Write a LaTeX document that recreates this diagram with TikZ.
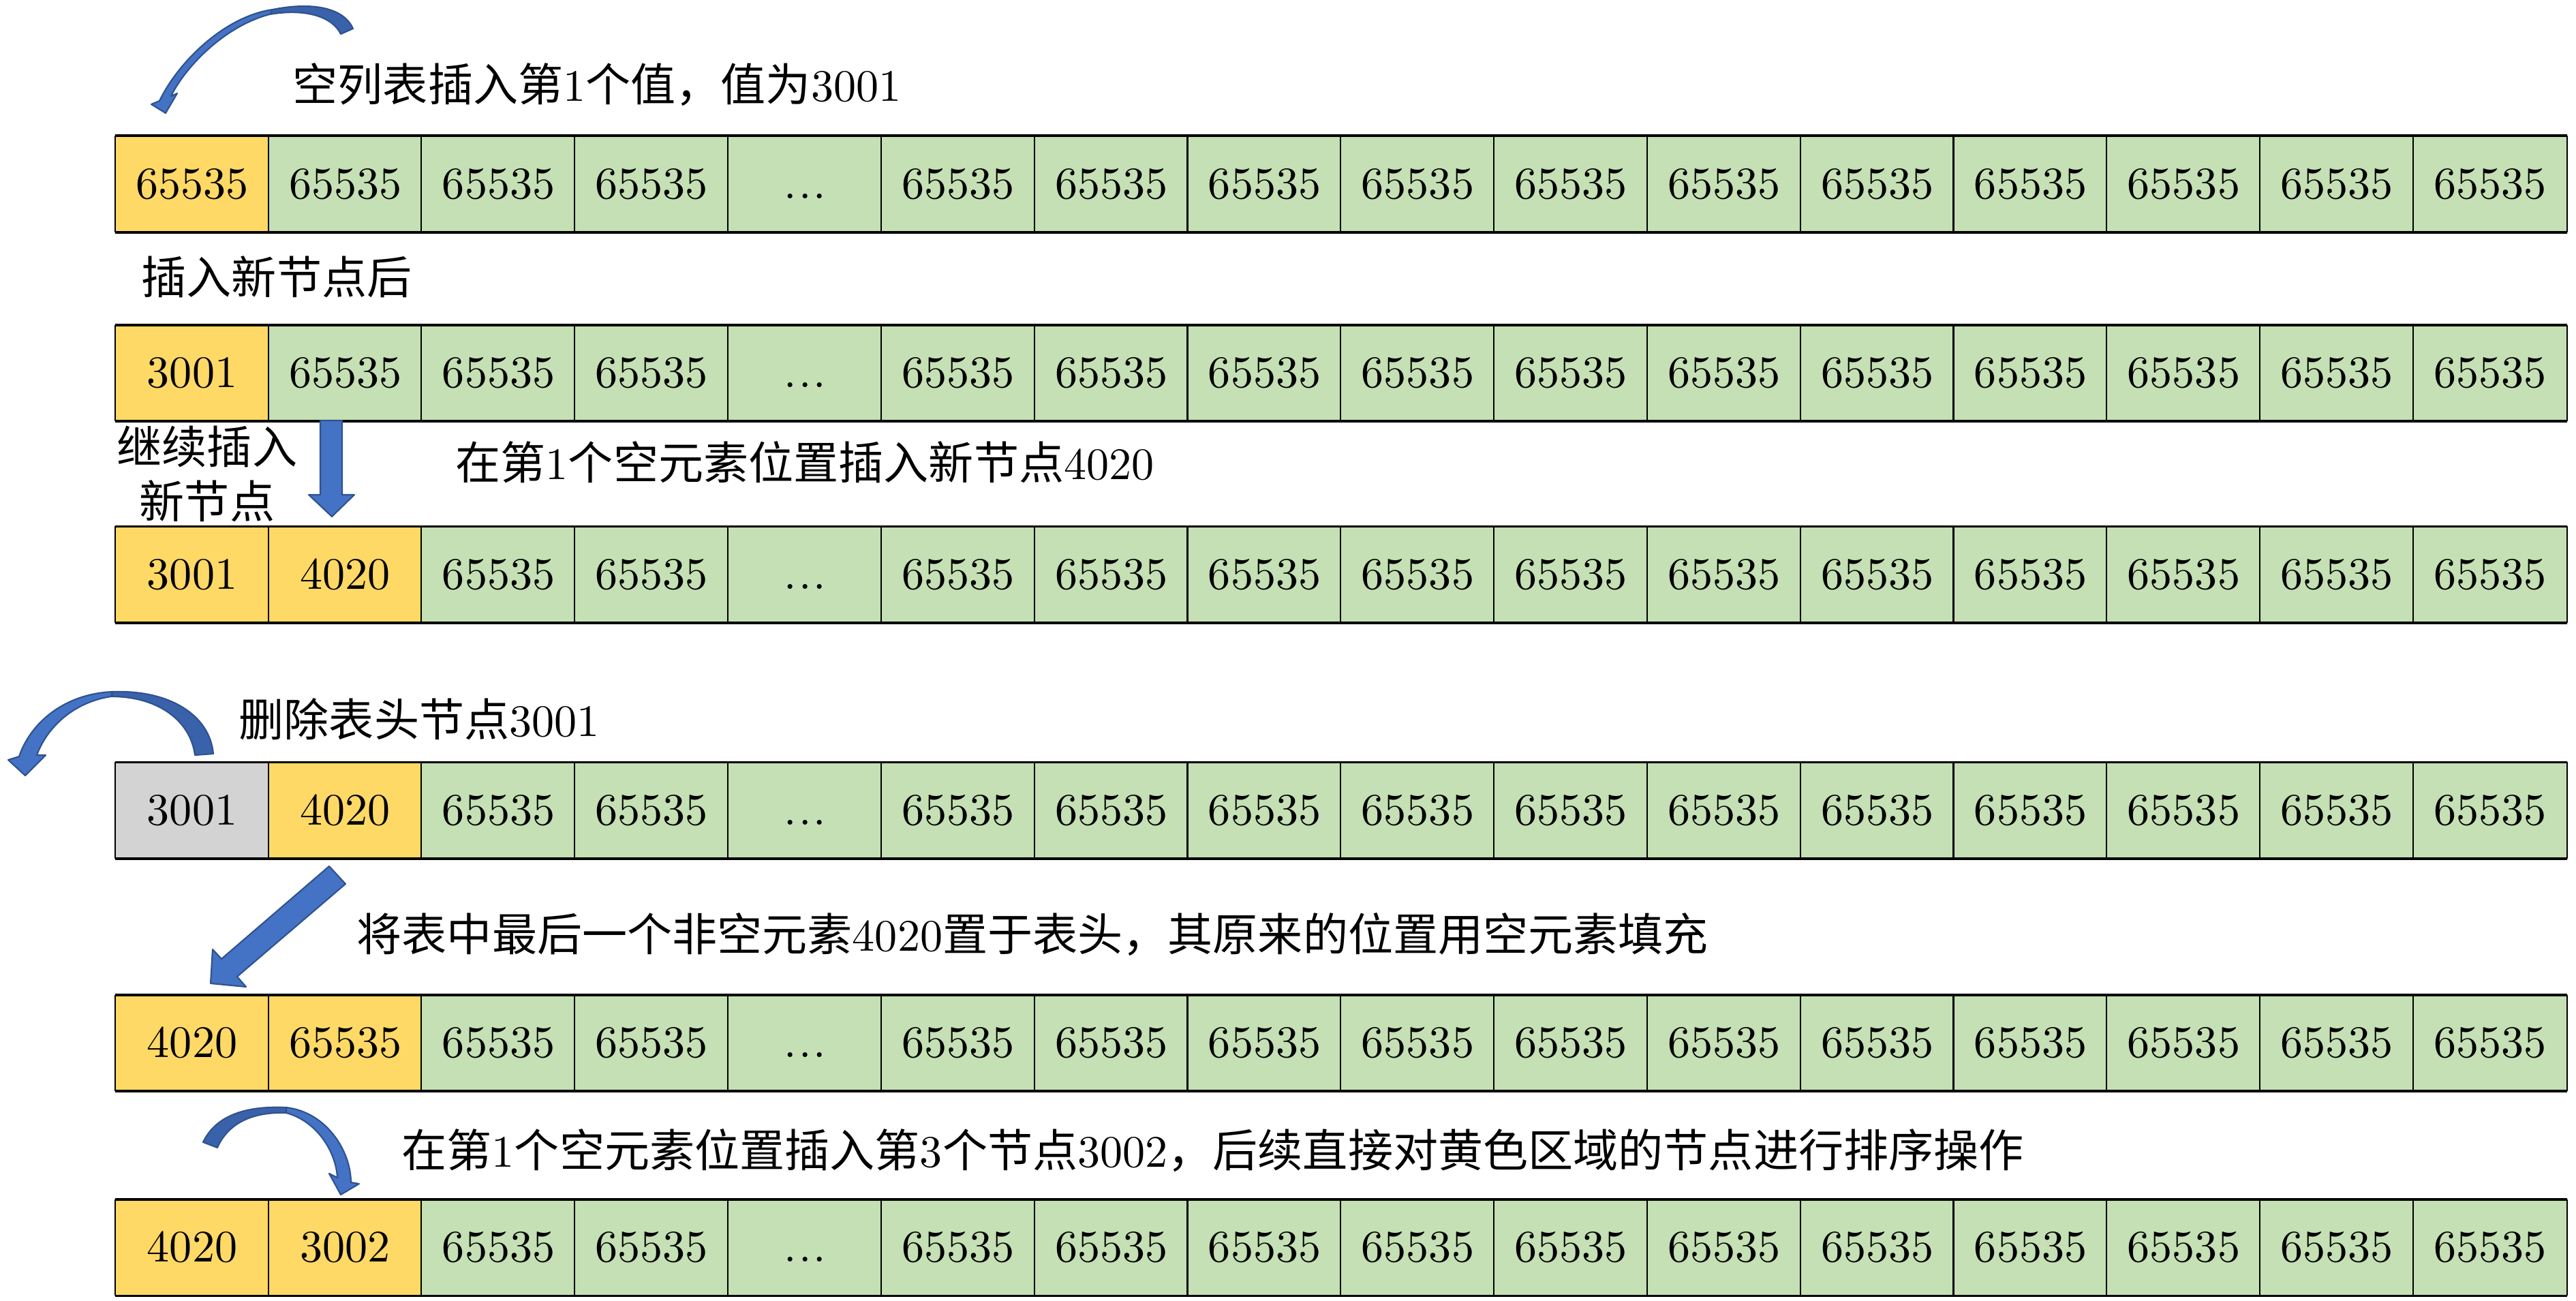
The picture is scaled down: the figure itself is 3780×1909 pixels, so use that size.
\documentclass[tikz,border=0pt]{standalone}
\usepackage{fontspec}
\setmainfont{lmroman10-regular.otf}
\newfontfamily\cjk{Noto Sans CJK SC}
\definecolor{yel}{HTML}{FFD966}
\definecolor{grn}{HTML}{C5E0B4}
\definecolor{gry}{HTML}{D3D3D3}
\definecolor{afront}{HTML}{4472C4}
\definecolor{aback}{HTML}{3A62AA}
\definecolor{aline}{HTML}{2F528F}
\newcommand\zh[1]{{\cjk #1}}
\tikzset{
  cell/.style={minimum width=2.248cm, minimum height=1.4cm, inner sep=0pt,
    text height=12.1pt, text depth=0pt, font=\fontsize{18.8}{22}\selectfont},
  hline/.style={line width=1pt},
  vline/.style={line width=0.6pt},
  lab/.style={anchor=base west, inner sep=0pt, font=\fontsize{18.8}{22}\selectfont},
  clab/.style={anchor=base, inner sep=0pt, font=\fontsize{18.8}{22}\selectfont},
  frontarrow/.style={fill=afront, draw=aline, line width=0.6pt, line join=round},
  backarrow/.style={fill=aback, draw=aline, line width=0.6pt, line join=round},
}
\newcommand\cellrow[3]{%
  \foreach \v/\c [count=\i] in {#3} {
    \node[cell, fill=\c] (#1c\i) at ({169.6+224.8*(\i-0.5)}, #2) {\v};
  }
  \draw[hline] (#1c1.north west) -- (#1c16.north east);
  \draw[hline] (#1c1.south west) -- (#1c16.south east);
  \foreach \i in {1,...,16} {\draw[vline] (#1c\i.north west) -- (#1c\i.south west);}
  \draw[vline] (#1c16.north east) -- (#1c16.south east);
}
\begin{document}
\begin{tikzpicture}[x=0.01cm, y=-0.01cm]
\useasboundingbox (0,0) rectangle (3780,1909);

% rows
\cellrow{r1}{270}{65535/yel,65535/grn,65535/grn,65535/grn,.\kern1pt.\kern1pt./grn,65535/grn,65535/grn,65535/grn,65535/grn,65535/grn,65535/grn,65535/grn,65535/grn,65535/grn,65535/grn,65535/grn}
\cellrow{r2}{547.5}{3001/yel,65535/grn,65535/grn,65535/grn,.\kern1pt.\kern1pt./grn,65535/grn,65535/grn,65535/grn,65535/grn,65535/grn,65535/grn,65535/grn,65535/grn,65535/grn,65535/grn,65535/grn}
\cellrow{r3}{843}{3001/yel,4020/yel,65535/grn,65535/grn,.\kern1pt.\kern1pt./grn,65535/grn,65535/grn,65535/grn,65535/grn,65535/grn,65535/grn,65535/grn,65535/grn,65535/grn,65535/grn,65535/grn}
\cellrow{r4}{1189}{3001/gry,4020/yel,65535/grn,65535/grn,.\kern1pt.\kern1pt./grn,65535/grn,65535/grn,65535/grn,65535/grn,65535/grn,65535/grn,65535/grn,65535/grn,65535/grn,65535/grn,65535/grn}
\cellrow{r5}{1530.5}{4020/yel,65535/yel,65535/grn,65535/grn,.\kern1pt.\kern1pt./grn,65535/grn,65535/grn,65535/grn,65535/grn,65535/grn,65535/grn,65535/grn,65535/grn,65535/grn,65535/grn,65535/grn}
\cellrow{r6}{1830.5}{4020/yel,3002/yel,65535/grn,65535/grn,.\kern1pt.\kern1pt./grn,65535/grn,65535/grn,65535/grn,65535/grn,65535/grn,65535/grn,65535/grn,65535/grn,65535/grn,65535/grn,65535/grn}

% labels
\node[lab] (t1) at (429,148) {\zh{空列表插入第}1\zh{个值，值为}3001};
\node[lab] (t2) at (207,431) {\zh{插入新节点后}};
\node[clab] (t3a) at (304,680) {\zh{继续插入}};
\node[clab] (t3b) at (304,760) {\zh{新节点}};
\node[lab] (t4) at (668,703) {\zh{在第}1\zh{个空元素位置插入新节点}4020};
\node[lab] (t5) at (350,1080) {\zh{删除表头节点}3001};
\node[lab] (t6) at (523,1395) {\zh{将表中最后一个非空元素}4020\zh{置于表头，其原来的位置用空元素填充}};
\node[lab] (t7) at (589,1712) {\zh{在第}1\zh{个空元素位置插入第}3\zh{个节点}3002\zh{，后续直接对黄色区域的节点进行排序操作}};

% arrow 1 (curved, top)
\path[backarrow] (518,42) .. controls (505,12) and (460,2) .. (400,14) -- (396,21) .. controls (450,12) and (488,25) .. (500,50) -- cycle;
\path[frontarrow] (400,14) .. controls (330,24) and (262,90) .. (234,148) -- (222,153) -- (243,166) -- (260,137) -- (251,141) .. controls (272,98) and (330,38) .. (396,21) -- cycle;

% arrow 2 (straight down)
\path[frontarrow] (470,617) -- (470,726) -- (453,726) -- (487,758) -- (520,726) -- (502,726) -- (502,617) -- cycle;

% arrow 3 (curved, delete)
\path[backarrow] (313,1106) .. controls (308,1050) and (250,1012) .. (165,1015) -- (163,1022) .. controls (235,1022) and (280,1060) .. (286,1108) -- cycle;
\path[frontarrow] (165,1015) .. controls (95,1018) and (45,1060) .. (28,1110) -- (12,1115) -- (37,1138) -- (67,1108) -- (54,1108) .. controls (70,1065) and (110,1030) .. (163,1022) -- cycle;

% arrow 4 (diagonal)
\path[frontarrow] (483,1271) -- (325,1407) -- (312,1393) -- (309,1443) -- (361,1448) -- (348,1433) -- (507,1297) -- cycle;

% arrow 5 (curved, bottom)
\path[backarrow] (298,1676) .. controls (315,1640) and (355,1622) .. (420,1625) -- (420,1633) .. controls (365,1631) and (333,1652) .. (319,1684) -- cycle;
\path[frontarrow] (420,1625) .. controls (480,1632) and (515,1690) .. (515,1735) -- (527,1737) -- (500,1753) -- (483,1722) -- (495,1728) .. controls (493,1690) and (465,1645) .. (420,1633) -- cycle;
\end{tikzpicture}
\end{document}
